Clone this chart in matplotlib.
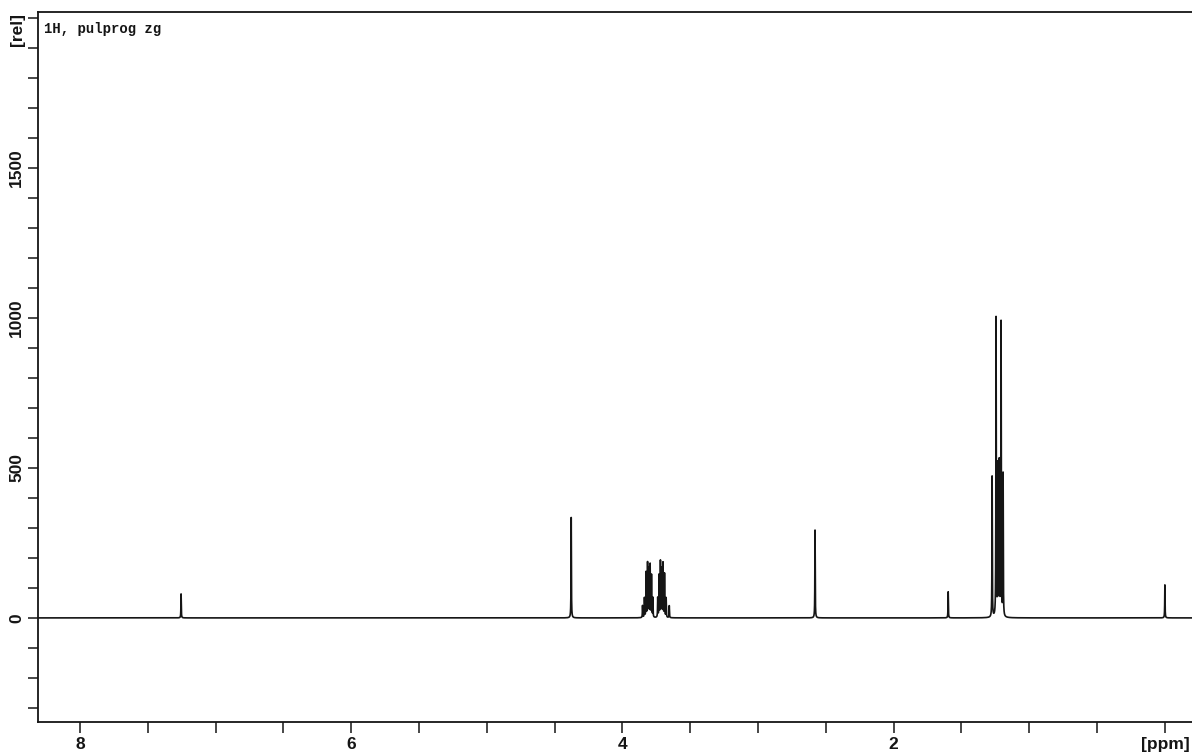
import numpy as np
import matplotlib
matplotlib.use("Agg")
import matplotlib.pyplot as plt
from matplotlib.ticker import FixedLocator, FixedFormatter
from matplotlib.font_manager import FontProperties

# ---- data (ppm, relative intensity) ----
peak_ppm = [7.255, 4.378,
            3.852, 3.838, 3.826, 3.815, 3.806, 3.796, 3.786, 3.776,
            3.740, 3.730, 3.720, 3.711, 3.701, 3.690, 3.678, 3.655,
            2.580, 1.598,
            1.274, 1.245, 1.232, 1.221, 1.208, 1.193,
            0.000]
peak_height = [80, 335,
               40, 65, 150, 180, 160, 175, 140, 65,
               65, 140, 185, 160, 180, 145, 65, 40,
               293, 87,
               470, 995, 500, 510, 980, 475,
               110]
peak_width = 0.0014  # ppm, half width

x_ticks = [8.0, 7.5, 7.0, 6.5, 6.0, 5.5, 5.0, 4.5, 4.0, 3.5, 3.0, 2.5, 2.0, 1.5, 1.0, 0.5, 0.0]
x_tick_labels = ["8", "", "", "", "6", "", "", "", "4", "", "", "", "2", "", "", "", "[ppm]"]
y_ticks = list(range(-300, 2001, 100))
y_tick_labels = [str(v) if v in (0, 500, 1000, 1500) else "" for v in y_ticks]

# ---- build spectrum from peak list ----
ppm = np.linspace(8.31, -0.20, 90000)
spec = np.zeros_like(ppm)
for p, h in zip(peak_ppm, peak_height):
    spec += h / (1 + ((ppm - p) / peak_width) ** 2)

fig = plt.figure(figsize=(11.92, 7.53), dpi=100)
ax = fig.add_axes([0.0319, 0.0412, 0.9681, 0.9428])
ax.plot(ppm, spec, color="#151515", lw=1.2)
ax.set_xlim(8.31, -0.20)
ax.set_ylim(-347, 2020)

fp = FontProperties(family=["Liberation Sans", "DejaVu Sans"], weight="bold", size=12.5)
ax.xaxis.set_major_locator(FixedLocator(x_ticks))
ax.xaxis.set_major_formatter(FixedFormatter(x_tick_labels))
ax.yaxis.set_major_locator(FixedLocator(y_ticks))
ax.yaxis.set_major_formatter(FixedFormatter(y_tick_labels))
ax.tick_params(axis="x", direction="out", length=8, width=1.1, pad=3, colors="#151515")
ax.tick_params(axis="y", direction="out", length=7, width=1.1, pad=3, colors="#151515")
for lab in ax.get_xticklabels():
    lab.set_fontproperties(fp)
for lab in ax.get_yticklabels():
    lab.set_fontproperties(fp)
    lab.set_rotation(90)
    lab.set_verticalalignment("center")

for s in ["left", "bottom", "top"]:
    ax.spines[s].set_linewidth(1.3)
    ax.spines[s].set_color("#151515")
ax.spines["right"].set_visible(False)

ax.text(-0.018, 0.975, "[rel]", transform=ax.transAxes, rotation=90,
        ha="center", va="center", fontproperties=fp, color="#151515")
ax.text(0.005, 0.986, "1H, pulprog zg", transform=ax.transAxes, ha="left", va="top",
        fontsize=10, fontweight="bold", family=["Liberation Mono", "DejaVu Sans Mono"],
        color="#151515")

fig.savefig("out.png", dpi=100)
